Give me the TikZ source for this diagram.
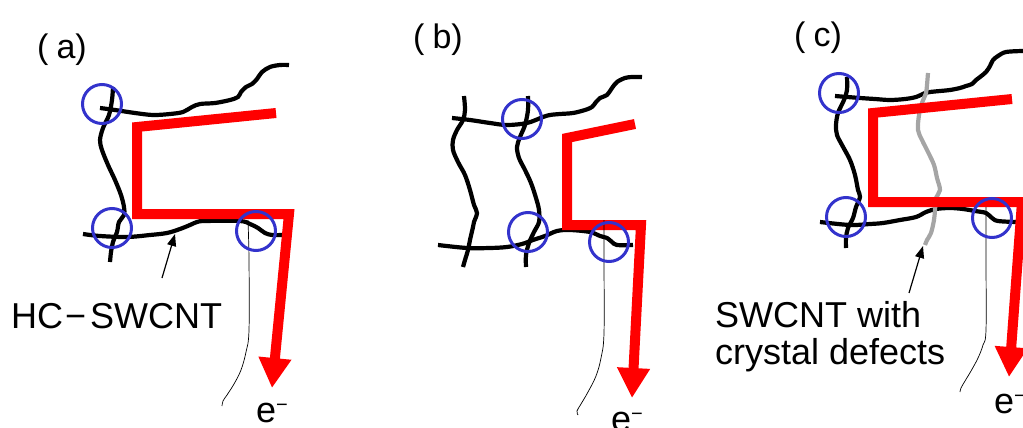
\documentclass[tikz,border=0pt]{standalone}
\usepackage{fontspec}
\setmainfont{Liberation Sans}
\usetikzlibrary{arrows.meta}
\definecolor{ringblue}{RGB}{51,51,204}
\definecolor{defectgray}{RGB}{165,165,165}
\definecolor{currentred}{RGB}{255,0,0}
\begin{document}
\begin{tikzpicture}[x=1pt,y=-1pt,
  tube/.style={line width=4.2pt,black},
  defecttube/.style={line width=4.2pt,defectgray},
  ring/.style={line width=3pt,ringblue},
  current/.style={line width=10pt,currentred,line join=miter,-{Triangle[length=30pt,width=31pt]}},
  wire/.style={line width=0.7pt,black},
  pointer/.style={line width=1.2pt,black,-{Triangle[length=12pt,width=9pt]}},
  panellbl/.style={inner sep=0pt,anchor=base west,font=\fontsize{34}{34}\selectfont},
  lbl/.style={inner sep=0pt,anchor=base west,font=\fontsize{36}{36}\selectfont},
  elbl/.style={inner sep=0pt,anchor=base west,font=\fontsize{36}{36}\selectfont}
]
\useasboundingbox (0,0) rectangle (1023,428);
\clip (0,0) rectangle (1023,428);

% ---------------- panel (a)
\node[panellbl] (la) at (37,59) {(\hspace{8pt}a)};
\draw[tube] plot[smooth,tension=0.55] coordinates {(100,108) (115,110) (135,113) (153,115) (170,114) (183,112) (192,107) (200,104) (215,103) (230,100) (238,97) (241,92) (246,87) (252,84) (257,79) (262,72) (270,67) (280,65) (289,65)};
\draw[tube] plot[smooth,tension=0.55] coordinates {(113,87) (112,100) (109,115) (103,128) (100,140) (102,150) (108,165) (115,180) (121,195) (124,207) (124,215) (119,222) (117,232) (113,242) (111,252) (110,262)};
\draw[tube] plot[smooth,tension=0.55] coordinates {(83,234) (100,236) (127,237) (150,235) (167,233) (180,229) (190,225) (197,222) (205,221) (240,221) (250,224) (258,228) (265,233) (272,235) (282,235)};
\coordinate (aR1) at (276,113);
\coordinate (aR2) at (137,127);
\coordinate (aR3) at (137,214);
\coordinate (aR4) at (289,214);
\coordinate (aR5) at (272,388);
\draw[current] (aR1) -- (aR2) -- (aR3) -- (aR4) -- (aR5);
\draw[wire] plot[smooth,tension=0.6] coordinates {(248,220) (249,260) (249,330) (246,352) (241,370) (234,384) (227,395) (223,401) (222,406)};
\node[ring,draw,circle,minimum size=39pt,inner sep=0pt] (ja1) at (102,104) {};
\node[ring,draw,circle,minimum size=39pt,inner sep=0pt] (ja2) at (112,228) {};
\node[ring,draw,circle,minimum size=39pt,inner sep=0pt] (ja3) at (256,231) {};
\node[lbl] (hc) at (11,328) {HC\hspace{2pt}−\hspace{4pt}SWCNT};
\coordinate (hcTail) at (162,278);
\coordinate (hcHead) at (175,234);
\draw[pointer] (hcTail) -- (hcHead);
\node[elbl] (ea) at (256,422) {e\raisebox{11pt}{\fontsize{20}{20}\selectfont −}};

% ---------------- panel (b)
\node[panellbl] (lb) at (413,49) {(\hspace{8pt}b)};
\draw[tube] plot[smooth,tension=0.55] coordinates {(452,118) (470,120) (490,123) (507,125) (527,123) (543,117) (550,115) (560,114) (573,113) (585,110) (592,107) (596,102) (600,98) (607,95) (612,88) (617,82) (625,78) (632,77) (642,77)};
\draw[tube] plot[smooth,tension=0.55] coordinates {(464,96) (465,110) (463,120) (457,130) (453,140) (453,150) (458,162) (465,175) (470,190) (474,205) (477,213) (474,222) (473,227) (470,240) (468,250) (465,260) (463,267)};
\draw[tube] plot[smooth,tension=0.55] coordinates {(528,96) (528,110) (525,125) (520,137) (517,147) (519,158) (525,170) (531,183) (536,198) (539,210) (539,222) (534,232) (529,243) (526,255) (526,267)};
\draw[tube] plot[smooth,tension=0.55] coordinates {(438,245) (467,248) (490,248) (507,247) (522,244) (533,240) (545,236) (557,231) (570,230) (590,232) (600,236) (607,238) (612,242) (617,245) (633,245)};
\coordinate (bR1) at (635,124);
\coordinate (bR2) at (567,138);
\coordinate (bR3) at (567,225);
\coordinate (bR4) at (641,225);
\coordinate (bR5) at (632,398);
\draw[current] (bR1) -- (bR2) -- (bR3) -- (bR4) -- (bR5);
\draw[wire] plot[smooth,tension=0.6] coordinates {(604,220) (604,260) (604,333) (601,358) (596,376) (588,392) (581,404) (577,411) (578,415)};
\node[ring,draw,circle,minimum size=39pt,inner sep=0pt] (jb1) at (522,119) {};
\node[ring,draw,circle,minimum size=39pt,inner sep=0pt] (jb2) at (528,232) {};
\node[ring,draw,circle,minimum size=39pt,inner sep=0pt] (jb3) at (609,242) {};
\node[elbl] (eb) at (611,431) {e\raisebox{11pt}{\fontsize{20}{20}\selectfont −}};

% ---------------- panel (c)
\node[panellbl] (lc) at (794,47) {(\hspace{8pt}c)};
\draw[tube] plot[smooth,tension=0.55] coordinates {(835,96) (860,98) (875,99) (890,100) (905,99) (916,97) (925,93) (930,92) (940,91) (950,90) (960,88) (966,86) (972,84) (976,80) (980,77) (986,72) (990,66) (993,60) (998,56) (1006,52) (1023,51)};
\draw[tube] plot[smooth,tension=0.55] coordinates {(847,77) (847,90) (844,100) (838,113) (836,125) (837,135) (842,145) (850,160) (855,175) (858,190) (860,197) (856,207) (853,218) (848,228) (846,238) (846,248)};
\draw[tube] plot[smooth,tension=0.55] coordinates {(820,222) (850,225) (870,224) (883,223) (900,220) (916,217) (926,212) (936,209) (950,208) (963,209) (975,211) (986,213) (992,218) (998,221) (1016,222)};
\draw[defecttube] plot[smooth,tension=0.55] coordinates {(928,73) (927,85) (926,93) (922,103) (919,115) (918,130) (922,140) (928,152) (934,165) (937,178) (940,190) (936,198) (935,210) (934,220) (931,233) (927,240) (925,245)};
\coordinate (cR1) at (1012,99);
\coordinate (cR2) at (873,113);
\coordinate (cR3) at (873,202);
\coordinate (cR4) at (1022,202);
\coordinate (cR5) at (1009,377);
\draw[current] (cR1) -- (cR2) -- (cR3) -- (cR4) -- (cR5);
\draw[wire] plot[smooth,tension=0.6] coordinates {(986,207) (986,260) (986,330) (983,345) (978,358) (971,371) (965,381) (961,388) (960,392)};
\node[ring,draw,circle,minimum size=39pt,inner sep=0pt] (jc1) at (839,93) {};
\node[ring,draw,circle,minimum size=39pt,inner sep=0pt] (jc2) at (846,217) {};
\node[ring,draw,circle,minimum size=39pt,inner sep=0pt] (jc3) at (992,218) {};
\node[lbl] (sw1) at (715,327) {SWCNT with};
\node[lbl] (sw2) at (715,364) {crystal defects};
\coordinate (swTail) at (909,293);
\coordinate (swHead) at (923,246);
\draw[pointer] (swTail) -- (swHead);
\node[elbl] (ec) at (994,413) {e\raisebox{11pt}{\fontsize{20}{20}\selectfont −}};
\end{tikzpicture}
\end{document}
